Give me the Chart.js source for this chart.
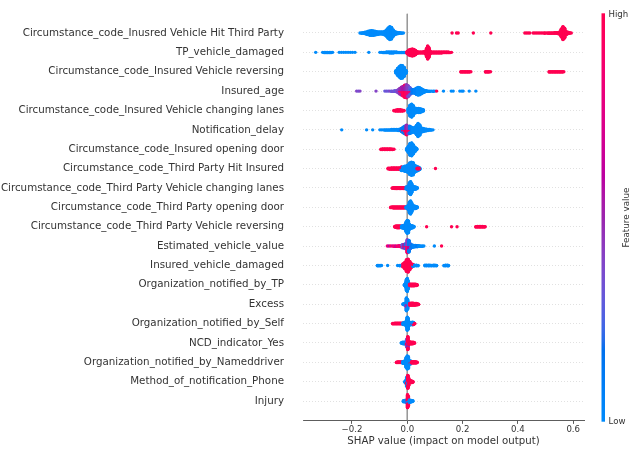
<!DOCTYPE html>
<html>
<head>
<meta charset="utf-8">
<script src="https://cdn.jsdelivr.net/npm/chart.js@4/dist/chart.umd.min.js"></script>
<style>
html,body{margin:0;padding:0;background:#fff;}
canvas{display:block;}
</style>
</head>
<body>
<canvas id="c" width="634" height="451"></canvas>
<script>
// ---------- DATA ----------
const features = [
  "Circumstance_code_Inusred Vehicle Hit Third Party",
  "TP_vehicle_damaged",
  "Circumstance_code_Insured Vehicle reversing",
  "Insured_age",
  "Circumstance_code_Insured Vehicle changing lanes",
  "Notification_delay",
  "Circumstance_code_Insured opening door",
  "Circumstance_code_Third Party Hit Insured",
  "Circumstance_code_Third Party Vehicle changing lanes",
  "Circumstance_code_Third Party opening door",
  "Circumstance_code_Third Party Vehicle reversing",
  "Estimated_vehicle_value",
  "Insured_vehicle_damaged",
  "Organization_notified_by_TP",
  "Excess",
  "Organization_notified_by_Self",
  "NCD_indicator_Yes",
  "Organization_notified_by_Nameddriver",
  "Method_of_notification_Phone",
  "Injury"
];
const xTicks = [-0.2, 0.0, 0.2, 0.4, 0.6];
const colorbarLabels = ["Low", "High"];

// each entry: [SHAP value, number of samples at that value, feature value (0 = low, 1 = high)]
const row0 = [
  [-0.171,1,0],[-0.165,2,0],[-0.159,3,0],[-0.153,5,0],[-0.147,8,0],[-0.141,11,0],[-0.135,14,0],[-0.129,15,0],
  [-0.123,14,0],[-0.117,12,0],[-0.111,10,0],[-0.105,8,0],[-0.099,7,0],[-0.093,7,0],[-0.087,8,0],[-0.081,12,0],
  [-0.075,20,0],[-0.069,32,0],[-0.063,40,0],[-0.057,36,0],[-0.051,20,0],[-0.045,10,0],[-0.039,6,0],[-0.033,4,0],
  [-0.027,3,0],[-0.020,2,0],[-0.014,1,0],
  [0.162,1,1],[0.178,1,1],[0.184,1,1],[0.239,1,1],[0.302,1,1],
  [0.425,1,1],[0.431,1,1],[0.437,1,1],[0.443,1,1],[0.455,1,1],[0.461,1,1],[0.467,1,1],[0.473,1,1],[0.479,1,1],
  [0.485,1,1],[0.491,1,1],[0.497,2,1],[0.503,1,1],[0.509,2,1],[0.515,2,1],[0.521,2,1],[0.527,2,1],[0.533,3,1],
  [0.539,3,1],[0.545,4,1],[0.551,8,1],[0.557,25,1],[0.563,40,1],[0.569,30,1],[0.575,10,1],[0.581,5,1],[0.587,3,1],[0.593,1,1]
];
const row1 = [
  [-0.331,1,0],[-0.306,1,0],[-0.300,2,0],[-0.294,2,0],[-0.288,2,0],[-0.282,2,0],[-0.276,2,0],[-0.270,1,0],
  [-0.246,1,0],[-0.238,1,0],[-0.230,1,0],[-0.222,1,0],[-0.214,1,0],[-0.206,1,0],[-0.198,1,0],[-0.189,1,0],
  [-0.139,1,0],
  [-0.099,1,0],[-0.093,1,0],[-0.087,2,0],[-0.081,2,0],[-0.075,3,0],[-0.069,3,0],[-0.063,4,0],[-0.057,4,0],
  [-0.051,4,0],[-0.045,3,0],[-0.039,3,0],[-0.033,2,0],[-0.027,2,0],[-0.021,2,0],[-0.015,2,0],[-0.009,2,0],[-0.003,2,0],
  [0.000,8,1],[0.006,16,1],[0.012,20,1],[0.018,22,1],[0.024,20,1],[0.030,14,1],[0.036,6,1],
  [0.042,4,1],[0.048,4,1],[0.054,4,1],[0.060,5,1],[0.066,10,1],[0.070,26,1],[0.074,40,1],[0.078,30,1],[0.082,10,1],
  [0.088,4,1],[0.094,4,1],[0.100,4,1],[0.106,4,1],[0.112,4,1],[0.118,4,1],[0.124,4,1],[0.130,3,1],[0.136,3,1],
  [0.142,3,1],[0.148,3,1],[0.154,2,1],[0.160,1,1]
];
const row2 = [
  [-0.041,8,0],[-0.035,22,0],[-0.029,32,0],[-0.023,40,0],[-0.017,38,0],[-0.011,28,0],[-0.005,10,0],
  [0.194,2,1],[0.200,2,1],[0.206,2,1],[0.212,2,1],[0.218,2,1],[0.224,2,1],[0.230,1,1],
  [0.283,2,1],[0.289,2,1],[0.295,2,1],[0.301,1,1],
  [0.513,2,1],[0.519,2,1],[0.525,2,1],[0.531,2,1],[0.537,2,1],[0.543,2,1],[0.549,2,1],[0.555,2,1],[0.561,2,1],[0.566,1,1]
];
const row3 = [
  [-0.183,1,0.4],[-0.177,1,0.35],[-0.171,1,0.4],[-0.113,1,0.4],
  [-0.081,1,0.3],[-0.075,1,0.35],[-0.069,1,0.3],[-0.063,1,0.4],[-0.057,2,0.3],[-0.051,2,0.35],[-0.045,3,0.3],[-0.039,4,0.35],
  [-0.033,10,0.4],[-0.027,12,0.45],[-0.027,6,0.9],[-0.021,15,0.5],[-0.021,10,0.9],[-0.015,15,0.55],[-0.015,15,0.95],
  [-0.009,18,0.5],[-0.009,20,1],[-0.003,20,0.45],[-0.003,20,0.9],[0.003,20,0.4],[0.003,14,0.85],[0.009,14,0.3],[0.009,10,0.8],
  [0.015,10,0.2],[0.015,4,1],
  [0.021,10,0.1],[0.027,14,0.05],[0.033,20,0.05],[0.039,24,0],[0.045,22,0],[0.051,16,0],[0.057,10,0],[0.063,6,0],
  [0.070,3,0],[0.076,2,0],[0.082,2,0],[0.088,1,0],[0.094,2,0],[0.100,1,0],[0.106,1,1],
  [0.131,1,0],[0.159,1,0],[0.166,1,0],[0.190,1,0],[0.197,1,0],[0.202,1,0],[0.224,1,0],[0.248,1,0]
];
const row4 = [
  [-0.048,2,1],[-0.042,4,1],[-0.036,5,1],[-0.030,5,1],[-0.024,5,1],[-0.018,4,1],[-0.012,2,1],
  [0.004,14,0],[0.010,34,0],[0.016,40,0],[0.022,30,0],[0.028,16,0],[0.034,13,0],[0.040,13,0],[0.046,12,0],[0.052,9,0],[0.058,5,0]
];
const row5 = [
  [-0.237,1,0],[-0.147,1,0],[-0.125,1,0],
  [-0.099,1,0],[-0.093,1,0],[-0.087,1,0],[-0.081,2,0],[-0.075,2,0],[-0.069,2,0],[-0.063,2,0],[-0.057,3,0],
  [-0.051,3,0],[-0.045,3,0],[-0.039,3,0],[-0.033,4,0],[-0.027,5,0],
  [-0.021,8,0.1],[-0.021,2,0.5],[-0.015,12,0.1],[-0.015,6,0.9],[-0.009,14,0.1],[-0.009,10,0.95],
  [-0.003,15,0.5],[-0.003,15,1],[0.003,14,0.45],[0.003,10,0.9],[0.009,15,0.1],[0.009,8,0.9],[0.015,14,0.05],[0.015,4,0.5],
  [0.021,14,0],[0.027,16,0],[0.033,28,0],[0.039,40,0],[0.045,32,0],[0.051,14,0],[0.057,10,0],[0.063,8,0],
  [0.069,6,0],[0.075,4,0],[0.081,3,0],[0.087,2,0],[0.093,1,0]
];
const row6 = [
  [-0.095,2,1],[-0.089,3,1],[-0.083,3,1],[-0.077,3,1],[-0.071,3,1],[-0.065,3,1],[-0.059,3,1],[-0.053,2,1],[-0.048,1,1],
  [-0.002,6,0],[0.004,20,0],[0.010,36,0],[0.016,40,0],[0.022,28,0],[0.028,14,0],[0.034,5,0]
];
const row7 = [
  [-0.069,3,1],[-0.063,4,1],[-0.057,5,1],[-0.051,5,1],[-0.045,5,1],[-0.039,5,1],[-0.033,5,1],[-0.027,6,1],[-0.021,6,1],
  [-0.021,6,0],[-0.015,12,0],[-0.009,16,0],[-0.003,18,0],[0.003,24,0],[0.009,36,0],[0.015,40,0],[0.021,38,0],
  [0.027,22,0],[0.033,16,0],[0.039,12,0],[0.045,6,0],
  [0.036,3,1],[0.042,3,1],[0.102,1,1]
];
const row8 = [
  [-0.054,2,1],[-0.049,3,1],[-0.044,4,1],[-0.039,4,1],[-0.034,4,1],[-0.029,4,1],[-0.024,4,1],[-0.019,4,1],[-0.014,4,1],[-0.009,4,1],[-0.004,3,1],
  [-0.004,4,0],[0.000,8,0],[0.004,14,0],[0.008,34,0],[0.012,40,0],[0.016,28,0],[0.020,10,0],[0.024,9,0],[0.028,8,0],[0.032,6,0],[0.036,3,0]
];
const row9 = [
  [-0.060,2,1],[-0.055,3,1],[-0.050,4,1],[-0.045,4,1],[-0.040,4,1],[-0.035,4,1],[-0.030,4,1],[-0.025,4,1],[-0.020,4,1],[-0.015,4,1],[-0.010,4,1],[-0.005,3,1],
  [-0.004,4,0],[0.000,8,0],[0.004,14,0],[0.008,34,0],[0.012,40,0],[0.016,28,0],[0.020,10,0],[0.024,9,0],[0.028,8,0],[0.032,6,0],[0.036,3,0]
];
const row10 = [
  [-0.045,3,1],[-0.041,5,1],[-0.037,6,1],[-0.033,6,1],[-0.029,6,1],[-0.025,5,1],[-0.021,4,1],
  [-0.020,6,0],[-0.016,8,0],[-0.012,10,0],[-0.008,14,0],[-0.004,30,0],[0.000,40,0],[0.004,36,0],[0.008,16,0],
  [0.012,10,0],[0.016,8,0],[0.020,6,0],[0.024,3,0],
  [0.070,1,1],[0.160,1,1],[0.180,1,1],[0.248,2,1],[0.254,3,1],[0.260,3,1],[0.266,3,1],[0.272,3,1],[0.278,2,1],[0.282,1,1]
];
const row11 = [
  [-0.072,1,0.85],[-0.066,1,0.6],[-0.060,1,0.95],[-0.054,1,0.7],[-0.048,2,0.9],[-0.042,2,0.65],[-0.036,2,0.95],[-0.030,3,0.8],[-0.024,4,0.9],
  [-0.018,6,0.3],[-0.018,4,0.9],[-0.012,8,0.5],[-0.012,4,1],[-0.006,10,0.2],[-0.006,6,0.8],[0.000,20,0.4],[0.000,20,0.9],
  [0.006,24,0.1],[0.006,12,0.6],[0.012,10,0.2],[0.012,4,0.8],[0.018,8,0.1],[0.024,6,0.05],[0.030,5,0.05],[0.036,4,0.1],
  [0.042,3,0],[0.048,2,0],[0.054,2,0],[0.060,1,0],[0.098,1,0],[0.124,1,1]
];
const row12 = [
  [-0.108,2,0],[-0.103,2,0],[-0.098,2,0],[-0.093,1,0],[-0.071,1,0],[-0.035,1,0],[-0.027,2,0],[-0.021,3,0],[-0.015,3,0],
  [-0.015,8,1],[-0.009,20,1],[-0.003,36,1],[0.003,40,1],[0.009,26,1],[0.015,12,1],[0.021,4,1],
  [0.021,3,0],[0.027,3,0],[0.033,3,0],[0.039,2,0],
  [0.064,3,0],[0.070,3,0],[0.076,3,0],[0.082,3,0],[0.088,2,0],[0.094,3,0],[0.100,3,0],[0.106,2,0],
  [0.133,2,0],[0.139,3,0],[0.145,3,0],[0.149,2,0]
];
const row13 = [
  [-0.010,4,0],[-0.006,14,0],[-0.003,34,0],[0.000,40,0],[0.003,26,0],[0.006,8,0],
  [0.009,5,1],[0.013,6,1],[0.017,6,1],[0.021,6,1],[0.025,6,1],[0.029,5,1],[0.033,4,1],[0.036,2,1]
];
const row14 = [
  [-0.015,3,0],[-0.011,5,0],[-0.007,8,0],[-0.003,28,0],[-0.003,12,0.45],[0.001,20,0],[0.001,10,0.5],[0.005,10,0],
  [0.009,6,1],[0.013,7,1],[0.017,7,1],[0.021,7,1],[0.025,6,1],[0.029,6,1],[0.033,5,1],[0.037,4,1],[0.041,2,1]
];
const row15 = [
  [-0.053,2,1],[-0.049,2,1],[-0.045,3,1],[-0.041,3,1],[-0.037,3,1],[-0.033,3,1],[-0.029,3,1],[-0.025,3,1],[-0.021,3,1],[-0.017,3,1],[-0.013,2,1],[-0.009,2,1],
  [-0.015,6,0],[-0.011,7,0],[-0.007,8,0],[-0.003,20,0],[0.000,40,0],[0.003,34,0],[0.007,10,0],[0.011,8,0],[0.015,7,0],[0.019,6,0],[0.023,4,0],
  [0.019,3,1],[0.023,3,1],[0.027,2,1]
];
const row16 = [
  [-0.021,3,0],[-0.017,5,0],[-0.013,6,0],[-0.009,6,0],[-0.005,7,0],
  [-0.002,14,0.35],[-0.002,10,1],[0.002,24,1],[0.002,16,0.5],
  [0.006,8,1],[0.010,7,1],[0.014,6,1],[0.018,6,1],[0.022,5,1],[0.026,3,1]
];
const row17 = [
  [-0.039,2,1],[-0.035,3,1],[-0.031,3,1],[-0.027,3,1],[-0.023,3,1],[-0.019,3,1],
  [-0.016,6,0],[-0.012,7,0],[-0.008,8,0],[-0.004,30,0],[0.000,40,0],[0.004,36,0],[0.008,10,0],[0.012,6,0],
  [0.012,4,1],[0.016,5,1],[0.020,5,1],[0.024,5,1],[0.028,5,1],[0.032,4,1],[0.036,2,1]
];
const row18 = [
  [-0.008,4,0],[-0.005,10,0],[-0.002,16,0],[-0.002,12,1],
  [0.002,28,1],[0.002,12,0],[0.005,24,1],[0.008,7,1],[0.012,7,1],[0.016,6,1],[0.020,4,1]
];
const row19 = [
  [-0.014,4,0],[-0.010,5,0],[-0.006,6,0],[-0.002,8,0],
  [0.001,30,1],[0.001,10,0.5],[0.004,24,1],[0.004,6,0],
  [0.008,8,0],[0.012,6,0],[0.016,5,0],[0.020,3,0]
];
const rows = [row0,row1,row2,row3,row4,row5,row6,row7,row8,row9,row10,row11,row12,row13,row14,row15,row16,row17,row18,row19];

// ---------- SHAP red_blue colormap (LCH interpolation) ----------
function lab2rgb(L,a,b){
  const fy=(L+16)/116, fx=fy+a/500, fz=fy-b/200;
  const f=t=> t>6/29 ? t*t*t : 3*(6/29)*(6/29)*(t-4/29);
  const X=0.95047*f(fx), Y=f(fy), Z=1.08883*f(fz);
  const r=3.2406*X-1.5372*Y-0.4986*Z, g=-0.9689*X+1.8758*Y+0.0415*Z, bb=0.0557*X-0.2040*Y+1.0570*Z;
  const gam=c=>{c=Math.max(0,Math.min(1,c));return c<=0.0031308?12.92*c:1.055*Math.pow(c,1/2.4)-0.055;};
  return [gam(r),gam(g),gam(bb)].map(v=>Math.round(v*255));
}
function cmap(t){
  const L = t<0.5 ? 54+(40-54)*(t/0.5) : 40+(54-40)*((t-0.5)/0.5);
  const C = 70+(90-70)*t;
  const H = 4.6588+((0.35470565+2*Math.PI)-4.6588)*t;
  const [r,g,b]=lab2rgb(L,C*Math.cos(H),C*Math.sin(H));
  return `rgb(${r},${g},${b})`;
}

// ---------- beeswarm layout (shap style stacking) ----------
function swarm(row, idx){
  const groups = new Map();
  row.forEach(([x,n,fv])=>{
    const k=x.toFixed(4);
    if(!groups.has(k)) groups.set(k,[]);
    groups.get(k).push({x,n,fv});
  });
  const pts=[];
  groups.forEach(list=>{
    const rem=list.map(e=>e.n); let layer=0, any=true;
    while(any){
      any=false;
      list.forEach((e,j)=>{
        if(rem[j]>0){
          rem[j]--; any=true;
          const ys=Math.ceil(layer/2)*((layer%2)*2-1);
          pts.push({x:e.x, ys, fv:e.fv}); layer++;
        }
      });
    }
  });
  const m=Math.max(...pts.map(p=>p.ys+1));
  const s=0.9*0.4/m;
  return pts.map(p=>({x:p.x, y:idx+p.ys*s, c:cmap(p.fv)}));
}
let allPts=[];
rows.forEach((r,i)=>{ allPts=allPts.concat(swarm(r,i)); });

const FONT="'DejaVu Sans', sans-serif";
const TXT='#333333';

const colorbarPlugin={
  id:'colorbar',
  afterDraw(chart){
    const ctx=chart.ctx, a=chart.chartArea;
    const x0=a.right+17.5, w=3.5, top=a.top-0.3, bot=a.bottom+1.3;
    const g=ctx.createLinearGradient(0,bot,0,top);
    for(let i=0;i<=40;i++) g.addColorStop(i/40,cmap(i/40));
    ctx.save();
    ctx.fillStyle=g; ctx.fillRect(x0,top,w,bot-top);
    ctx.fillStyle=TXT; ctx.font="8.6px "+FONT; ctx.textBaseline='middle'; ctx.textAlign='left';
    ctx.fillText(colorbarLabels[1],x0+w+3.5,top+1.5);
    ctx.fillText(colorbarLabels[0],x0+w+3.5,bot);
    ctx.translate(x0+w+22,(top+bot)/2);
    ctx.rotate(-Math.PI/2);
    ctx.textAlign='center'; ctx.font="8.8px "+FONT;
    ctx.fillText("Feature value",0,0);
    ctx.restore();
  }
};

new Chart(document.getElementById('c'),{
  type:'scatter',
  data:{datasets:[
    {data:allPts, pointBackgroundColor:allPts.map(p=>p.c), pointBorderWidth:0, pointRadius:1.7, pointHoverRadius:1.7, order:0},
    {data:[{x:0,y:-1},{x:0,y:20}], showLine:true, borderColor:'#999999', borderWidth:1, pointRadius:0, order:10}
  ]},
  options:{
    responsive:false, animation:false, events:[],
    layout:{padding:{left:0,right:50,top:13.6,bottom:0}},
    plugins:{legend:{display:false}, tooltip:{enabled:false}},
    scales:{
      x:{type:'linear', position:'bottom', min:-0.377, max:0.639,
        afterBuildTicks:s=>{s.ticks=xTicks.map(v=>({value:v}));},
        afterFit:s=>{s.height=30.6; s.paddingLeft=0; s.paddingRight=0;},
        ticks:{callback:v=>(v<0?'\u2212':'')+Math.abs(v).toFixed(1), font:{family:FONT,size:8.6}, color:TXT, padding:1, maxRotation:0, autoSkip:false},
        grid:{display:true, drawOnChartArea:false, drawTicks:true, tickLength:3.5, tickColor:TXT, tickWidth:0.8},
        border:{display:true, color:TXT, width:0.8},
        title:{display:true, text:'SHAP value (impact on model output)', font:{family:FONT,size:10.2}, color:TXT, padding:{top:0,bottom:3.9}}
      },
      y:{type:'linear', min:-1, max:20, reverse:true,
        afterBuildTicks:s=>{s.ticks=features.map((_,i)=>({value:i}));},
        afterFit:s=>{s.width=303; s.paddingTop=0; s.paddingBottom=0;},
        ticks:{callback:v=>features[v], font:{family:FONT,size:10.3}, color:TXT, padding:19, autoSkip:false},
        grid:{color:'#cccccc', lineWidth:0.6, drawTicks:false},
        border:{display:false, dash:[1,2]}
      }
    }
  },
  plugins:[colorbarPlugin]
});
</script>
</body>
</html>
